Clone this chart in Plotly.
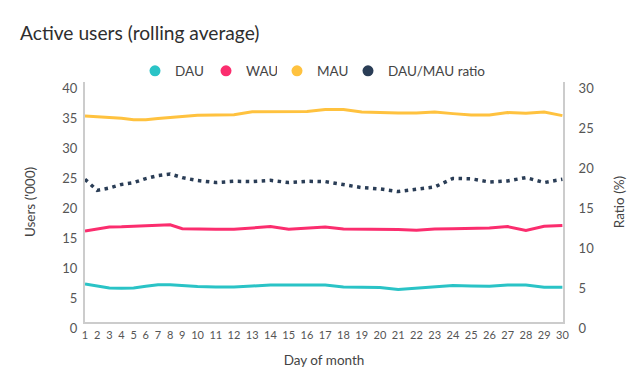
import numpy as np
import plotly.graph_objects as go

days = list(range(1, 31))
day_labels = [str(d) for d in days]

dau = [6.35, 5.95, 5.65, 5.62, 5.65, 5.95, 6.2, 6.2, 6.05, 5.9, 5.83, 5.83, 6.0, 6.15, 6.15,
       6.15, 6.15, 5.85, 5.83, 5.73, 5.42, 5.67, 5.83, 6.1, 6.0, 5.95, 6.15, 6.15, 5.78, 5.78]
wau = [15.17, 15.5, 15.83, 15.86, 15.95, 15.98, 16.1, 16.2, 15.55, 15.45, 15.45, 15.45, 15.62, 15.9, 15.45,
       15.67, 15.83, 15.5, 15.5, 15.45, 15.4, 15.28, 15.5, 15.56, 15.56, 15.67, 15.9, 15.25, 15.95, 16.1]
mau = [34.33, 34.23, 34.12, 33.95, 33.7, 33.7, 33.9, 34.1, 34.3, 34.45, 34.5, 34.55, 35.05, 35.05, 35.05,
       35.1, 35.4, 35.4, 35.0, 34.9, 34.83, 34.83, 35.0, 34.73, 34.5, 34.5, 34.9, 34.8, 35.0, 34.4]
ratio = [17.84, 16.45, 16.75, 17.2, 17.43, 17.93, 18.3, 18.5, 18.05, 17.68, 17.43, 17.59, 17.55, 17.71, 17.43,
         17.59, 17.55, 17.13, 16.8, 16.63, 16.3, 16.59, 16.88, 17.95, 17.9, 17.5, 17.63, 18.05, 17.43, 17.84]

series_names = ["DAU", "WAU", "MAU", "DAU/MAU ratio"]
colors = ["#2ac3c6", "#fb2d6e", "#ffc23f", "#2a3d56"]

# x positions: labels laid out by their text width (slot = chars + 1)
slots = np.array([len(s) + 1 for s in day_labels], dtype=float)
xpos = np.cumsum(slots) - slots / 2

FONT = "Lato"
# page body has an 8px default margin; size the figure so it fits the 642x388 window
W, H, OFF = 642 - 8, 388 - 8, 8
LEGEND_STEP = 71          # px between legend entries
LEGEND_FIRST = 155        # px, centre of first legend symbol

fig = go.Figure()

for name, vals, col in zip(series_names[:3], [dau, wau, mau], colors[:3]):
    fig.add_trace(go.Scatter(x=xpos, y=vals, mode="lines", name=name, legendgroup=name,
                             showlegend=False, line=dict(color=col, width=3),
                             hoverinfo="skip"))
fig.add_trace(go.Scatter(x=xpos, y=ratio, mode="lines", name=series_names[3], yaxis="y2",
                         legendgroup=series_names[3], showlegend=False,
                         line=dict(color=colors[3], width=3.5, dash="3.5px,4.5px"),
                         hoverinfo="skip"))

axis_col = "#cccccc"
tick_font = dict(family=FONT, size=13, color="#555555")
title_font = dict(family=FONT, size=13.5, color="#444444")
leg_common = dict(orientation="h", xref="container", xanchor="left",
                  y=1 - (71 - OFF) / H, yref="container", yanchor="middle",
                  font=dict(family=FONT, size=13.5, color="#444444"), itemwidth=30,
                  traceorder="normal")

legends = {}
# legend entries with circle symbols, one legend box per entry for even spacing
for i, (name, col) in enumerate(zip(series_names, colors)):
    key = "legend" if i == 0 else f"legend{i + 1}"
    fig.add_trace(go.Scatter(x=[None], y=[None], mode="markers", name=name, legendgroup=name,
                             legend=key, marker=dict(color=col, size=11, symbol="circle")))
    legends[key] = dict(x=(LEGEND_FIRST + i * LEGEND_STEP - 20 - OFF) / W, **leg_common)

fig.update_layout(
    width=W, height=H,
    margin=dict(l=85 - OFF, r=642 - 563, t=82 - OFF, b=388 - 322, autoexpand=False),
    paper_bgcolor="white", plot_bgcolor="white",
    font=dict(family=FONT, color="#444444"),
    title=dict(text="Active users (rolling average)", x=(20 - OFF) / W, xref="container",
               xanchor="left", y=1 - (33 - OFF) / H, yref="container", yanchor="middle",
               font=dict(family=FONT, size=19.2, color="#2e2e2e")),
    showlegend=True,
    **legends,
    xaxis=dict(range=[xpos[0], xpos[-1] + 0.1], tickvals=xpos, ticktext=day_labels,
               showgrid=False, zeroline=False, showline=True, linecolor=axis_col, linewidth=2,
               ticks="", tickfont=dict(family=FONT, size=11, color="#555555"),
               ticklabelstandoff=2, automargin=False,
               title=dict(text="Day of month", font=title_font, standoff=15)),
    yaxis=dict(range=[0, 40], tickvals=[0, 5, 10, 15, 20, 25, 30, 35, 40], showgrid=False,
               zeroline=False, showline=True, linecolor=axis_col, linewidth=2, ticks="",
               tickfont=tick_font, ticklabelstandoff=3, ticklabelshift=6, automargin=False,
               title=dict(text="Users ('000)", font=title_font, standoff=24)),
    yaxis2=dict(range=[0, 30], tickvals=[0, 5, 10, 15, 20, 25, 30], overlaying="y", side="right",
                showgrid=False, zeroline=False, showline=True, linecolor=axis_col, linewidth=2,
                ticks="", tickfont=tick_font, ticklabelstandoff=11, ticklabelshift=6,
                automargin=False,
                title=dict(text="Ratio (%)", font=title_font, standoff=21)),
)

fig.write_html("out.html")
